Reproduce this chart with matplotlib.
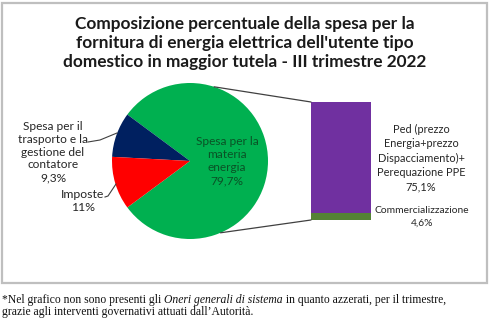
import matplotlib
matplotlib.use("Agg")
import matplotlib.pyplot as plt
from matplotlib.patches import Rectangle, ConnectionPatch
import numpy as np

# --- data -------------------------------------------------------------
pie_labels = ["Spesa per la\nmateria\nenergia",
              "Spesa per il\ntrasporto e la\ngestione del\ncontatore",
              "Imposte"]
pie_values = [79.7, 9.3, 11.0]
pie_colors = ["#00B050", "#002060", "#FF0000"]

bar_labels = ["Commercializzazione",
              "Ped (prezzo\nEnergia+prezzo\nDispacciamento)+\nPerequazione PPE"]
bar_values = [4.6, 75.1]
bar_colors = ["#548235", "#7030A0"]

title = ("Composizione percentuale della spesa per la\n"
         "fornitura di energia elettrica dell'utente tipo\n"
         "domestico in maggior tutela - III trimestre 2022")


def pct(v):
    s = f"{v:.1f}".replace(".", ",")
    return s[:-2] + "%" if s.endswith(",0") else s + "%"


W, H = 493, 328
fig = plt.figure(figsize=(W / 100, H / 100), dpi=100)
fig.patch.set_facecolor("white")
SANS = ["Lato", "DejaVu Sans"]


def fx(x, y):
    return x / W, 1 - y / H


# outer frame of the chart area
x0, y0 = fx(1.5, 283)
x1, y1 = fx(487, 2.5)
fig.patches.append(Rectangle((x0, y0), x1 - x0, y1 - y0, transform=fig.transFigure,
                             fill=False, edgecolor="#BFBFBF", lw=1.6))

# title
fig.text(*fx(245, 43), title, ha="center", va="center", fontsize=12.4,
         fontweight="bold", family=SANS, color="#1A1A1A", linespacing=1.2)

# pie of the three cost components
cx, cy, r = 190, 161, 78
ax_pie = fig.add_axes([(cx - r) / W, (H - cy - r) / H, 2 * r / W, 2 * r / H])
start = -pie_values[0] * 3.6 / 2
ax_pie.pie(pie_values, colors=pie_colors, startangle=start, counterclock=True,
           radius=1, wedgeprops=dict(linewidth=0))
ax_pie.set_xlim(-1, 1)
ax_pie.set_ylim(-1, 1)
ax_pie.set_axis_off()

# stacked bar splitting the energy component
bx0, bx1, by0, by1 = 311, 371, 102, 220
ax_bar = fig.add_axes([bx0 / W, (H - by1) / H, (bx1 - bx0) / W, (by1 - by0) / H])
bottom = 0
for v, c in zip(bar_values, bar_colors):
    ax_bar.bar(0, v, width=1, bottom=bottom, color=c, linewidth=0)
    bottom += v
ax_bar.set_xlim(-0.5, 0.5)
ax_bar.set_ylim(0, sum(bar_values))
ax_bar.set_axis_off()

# connector lines between pie and bar
for ang, yb in ((72, sum(bar_values)), (-67, 0)):
    a = np.deg2rad(ang)
    con = ConnectionPatch(xyA=(np.cos(a), np.sin(a)), coordsA=ax_pie.transData,
                          xyB=(-0.5, yb), coordsB=ax_bar.transData,
                          color="#404040", lw=0.9)
    fig.add_artist(con)

lab_col = "#262626"
# labels of the pie
fig.text(*fx(227, 161), f"{pie_labels[0]}\n{pct(pie_values[0])}", ha="center",
         va="center", fontsize=8.6, family=SANS, color="#0A5226", linespacing=1.22)
fig.text(*fx(53, 152), f"{pie_labels[1]}\n{pct(pie_values[1])}", ha="center",
         va="center", fontsize=8.6, family=SANS, color=lab_col, linespacing=1.22)
fig.text(*fx(83, 201), f"{pie_labels[2]}\n{pct(pie_values[2])}", ha="center",
         va="center", fontsize=8.8, family=SANS, color=lab_col, linespacing=1.2)

# leader lines
for pts in (((88, 142), (100, 140), (117, 133)), ((105, 197), (108, 196), (116, 184))):
    xs = [fx(*p)[0] for p in pts]
    ys = [fx(*p)[1] for p in pts]
    fig.add_artist(plt.Line2D(xs, ys, transform=fig.transFigure, color="#404040", lw=0.8))

# labels of the bar
fig.text(*fx(421, 158), f"{bar_labels[1]}\n{pct(bar_values[1])}", ha="center",
         va="center", fontsize=7.9, family=SANS, color=lab_col, linespacing=1.36)
fig.text(*fx(422, 217), f"{bar_labels[0]}\n{pct(bar_values[0])}", ha="center",
         va="center", fontsize=7.4, family=SANS, color=lab_col, linespacing=1.6)

# footnote with an italic segment
SERIF = ["Liberation Serif", "DejaVu Serif"]
renderer = fig.canvas.get_renderer()
parts = [("*Nel grafico non sono presenti gli ", "normal"),
         ("Oneri generali di sistema", "italic"),
         (" in quanto azzerati, per il trimestre,", "normal")]
xpos = 2.0
for txt, style in parts:
    t = fig.text(*fx(xpos, 300), txt, ha="left", va="center", fontsize=8.4,
                 family=SERIF, style=style, color="#111111")
    bb = t.get_window_extent(renderer=renderer)
    xpos += bb.width
fig.text(*fx(2, 312), "grazie agli interventi governativi attuati dall\u2019Autorit\u00e0.",
         ha="left", va="center", fontsize=8.4, family=SERIF, color="#111111")

fig.savefig("out.png", dpi=100, facecolor="white")
